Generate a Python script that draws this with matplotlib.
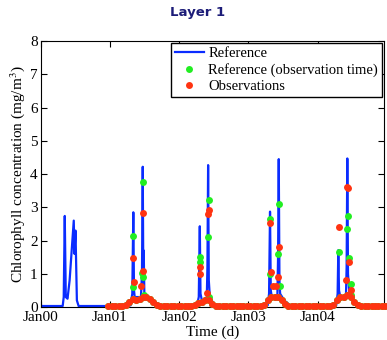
import numpy as np
import matplotlib
matplotlib.use("Agg")
import matplotlib.pyplot as plt
from matplotlib import rcParams

rcParams["font.family"] = ["Liberation Serif", "DejaVu Serif"]
rcParams["mathtext.fontset"] = "stix"
rcParams["font.size"] = 11

# ---------------- data (time in years) ----------------
# reference model run (blue line)
ref_t = [0.00, 0.01, 0.32, 0.335, 0.35, 0.365, 0.39, 0.42, 0.48, 0.49, 0.505, 0.525, 0.55, 0.98,
         1.30, 1.325, 1.34, 1.35, 1.36, 1.45, 1.465, 1.476, 1.485, 1.49, 1.50, 1.55, 1.65, 1.75,
         2.26, 2.285, 2.30, 2.31, 2.33, 2.40, 2.41, 2.42, 2.43, 2.445, 2.50, 2.60,
         3.28, 3.30, 3.314, 3.325, 3.34, 3.42, 3.43, 3.44, 3.45, 3.46, 3.52, 3.62,
         4.27, 4.29, 4.30, 4.31, 4.33, 4.41, 4.42, 4.43, 4.44, 4.46, 4.52, 4.62, 4.97]
ref_v = [0.15, 0.03, 0.03, 0.30, 2.74, 0.30, 0.25, 0.80, 2.60, 1.60, 2.30, 0.20, 0.03, 0.03,
         0.05, 0.40, 2.85, 0.50, 0.30, 0.30, 1.00, 4.22, 0.60, 1.70, 0.30, 0.25, 0.15, 0.03,
         0.05, 0.30, 2.43, 0.40, 0.20, 0.20, 1.20, 4.27, 0.80, 0.30, 0.10, 0.02,
         0.05, 0.40, 2.87, 0.50, 0.30, 0.30, 1.50, 4.45, 0.80, 0.40, 0.20, 0.02,
         0.05, 0.40, 1.71, 0.50, 0.30, 0.30, 1.20, 4.47, 1.00, 0.40, 0.20, 0.02, 0.02]

# reference sampled at observation times (green dots)
refobs_t = [1.340, 1.340, 1.476, 1.470, 1.485, 1.490,
            2.430, 2.425, 2.300, 2.310, 2.440,
            3.440, 3.315, 3.435, 3.318, 3.458,
            4.440, 4.421, 4.306, 4.459, 4.484, 4.490]
refobs_v = [2.15, 0.60, 3.75, 1.02, 0.91, 0.35,
            3.22, 2.10, 1.51, 1.36, 0.30,
            3.11, 2.66, 1.59, 0.99, 0.63,
            2.74, 2.34, 1.65, 1.48, 0.68, 0.35]

# observations, bloom values (red dots)
obs_t = [1.340, 1.345, 1.478, 1.485, 1.455,
         2.430, 2.425, 2.300, 2.310, 2.400,
         3.315, 3.449, 3.333, 3.425, 3.353, 3.400,
         4.421, 4.445, 4.306, 4.459, 4.407, 4.480]
obs_v = [1.47, 0.74, 2.84, 1.08, 0.63,
         2.92, 2.80, 1.19, 0.98, 0.43,
         2.53, 1.80, 1.05, 0.91, 0.63, 0.64,
         3.60, 3.58, 2.42, 1.34, 0.81, 0.50]

# observations, background level (sampled every 0.05 yr from Jan01)
base_t = np.arange(0.98, 4.99, 0.05)
base_v = [0.02, 0.02, 0.02, 0.02, 0.03, 0.06, 0.15, 0.25, 0.20, 0.25,
          0.30, 0.30, 0.25, 0.15, 0.06, 0.03, 0.02, 0.02, 0.02, 0.02,
          0.02, 0.02, 0.02, 0.02, 0.03, 0.05, 0.12, 0.15, 0.20, 0.20,
          0.10, 0.04, 0.02, 0.02, 0.02, 0.02, 0.02, 0.02, 0.02, 0.02,
          0.02, 0.02, 0.02, 0.02, 0.03, 0.05, 0.20, 0.30, 0.30, 0.30,
          0.20, 0.08, 0.03, 0.02, 0.02, 0.02, 0.02, 0.02, 0.02, 0.02,
          0.02, 0.02, 0.02, 0.02, 0.03, 0.06, 0.20, 0.30, 0.30, 0.35,
          0.30, 0.15, 0.05, 0.02, 0.02, 0.02, 0.02, 0.02, 0.02, 0.02,
          0.02]

xticks = [0, 1, 2, 3, 4]
xlabels = ["Jan00", "Jan01", "Jan02", "Jan03", "Jan04"]

# ---------------- plot ----------------
fig = plt.figure(figsize=(3.87, 3.40), dpi=100)
ax = fig.add_axes([0.1047, 0.097, 0.8876, 0.782])

blue = "#0a2cff"
green = "#22ee22"
red = "#ff3311"

ax.plot(ref_t, ref_v, color=blue, lw=1.6, label="Reference", zorder=2)
ax.plot(list(base_t) + refobs_t, base_v + refobs_v, "o", color=green, ms=5,
        mec="none", ls="none", label="Reference (observation time)", zorder=3, clip_on=False)
ax.plot(list(base_t) + obs_t, base_v + obs_v, "o", color=red, ms=5, mec="none",
        ls="none", label="Observations", zorder=4, clip_on=False)

ax.set_xlim(0, 4.96)
ax.set_ylim(0, 8)
ax.set_xticks(xticks)
ax.set_xticklabels(xlabels)
ax.set_yticks(range(0, 9))
ax.tick_params(direction="in", top=True, right=True, length=4, labelsize=11, pad=2)
ax.tick_params(axis="x", pad=3)
ax.set_xlabel("Time (d)", labelpad=1)
ax.set_ylabel("Chlorophyll concentration (mg/m$^3$)", labelpad=2)

leg = ax.legend(loc="upper right", fontsize=10.5, fancybox=False, edgecolor="black",
                framealpha=1, borderaxespad=0.15, borderpad=0.25, labelspacing=0.2,
                handletextpad=0.3, handlelength=2.0)
leg.get_frame().set_linewidth(1.0)

fig.text(0.51, 0.962, "Layer 1", ha="center", va="center", family="DejaVu Sans",
         fontsize=9.5, fontweight="bold", color="#1c1c78")

fig.savefig("out.png", dpi=100)
